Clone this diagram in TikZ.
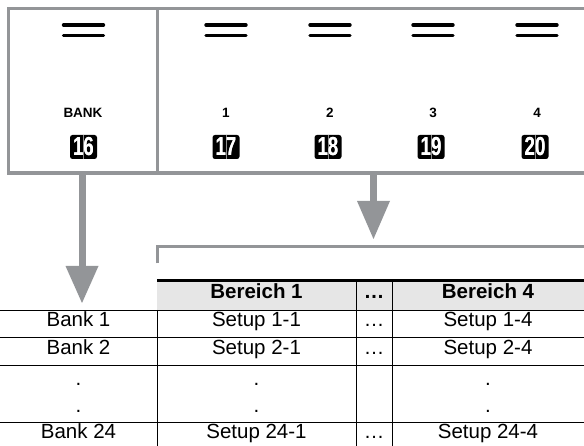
\documentclass[tikz,border=0pt]{standalone}
\usepackage{fontspec}
\setmainfont{Liberation Sans}
\usepackage{graphicx}
\definecolor{framegray}{RGB}{147,149,152}
\definecolor{headgray}{RGB}{230,230,230}
\tikzset{
  frameline/.style={draw=framegray, line width=3.2pt},
  eqline/.style={draw=black, line width=3.4pt, line cap=round},
  keylabel/.style={font=\fontsize{13.5}{13.5}\selectfont\bfseries, anchor=center},
  numbox/.style={fill=black, rounded corners=2.5pt, minimum width=27pt, minimum height=24pt, inner sep=0pt, text=white,
    font=\fontsize{26}{26}\selectfont\bfseries},
  tabline/.style={draw=black, line width=1pt},
  cell/.style={anchor=base, font=\fontsize{20.5}{21}\selectfont, inner sep=0pt},
  headcell/.style={cell, font=\fontsize{20.5}{21}\selectfont\bfseries},
  arrshaft/.style={draw=framegray, line width=7pt},
  arrhead/.style={fill=framegray, draw=none},
}
\newcommand{\keybox}[4]{%
  \node[numbox] (#1) at (#2,#3) {\scalebox{0.72}[1]{#4}};
  \draw[draw=white!55!black, line width=0.4pt] (#1.north) -- (#1.south);
  \node[numbox, fill=none, text=white] (#1t) at (#2,#3) {\scalebox{0.72}[1]{#4}};
}
\begin{document}
\begin{tikzpicture}[x=1pt,y=-1pt]
\useasboundingbox (0,0) rectangle (584,446);
\begin{scope}
\clip (0,0) rectangle (584,446);
% frame
\draw[frameline] (590,8.5) -- (8.5,8.5) -- (8.5,173) -- (590,173);
\draw[frameline] (157.3,8.5) -- (157.3,173);
% equal signs
\foreach \cx [count=\i] in {83.5,226,330,433,537}{
  \draw[eqline] (\cx-20,25) -- (\cx+20,25);
  \draw[eqline] (\cx-20,35.5) -- (\cx+20,35.5);
}
% key labels
\node[keylabel] (lbank) at (83,113) {BANK};
\node[keylabel] (l1) at (226,113) {1};
\node[keylabel] (l2) at (330,113) {2};
\node[keylabel] (l3) at (433,113) {3};
\node[keylabel] (l4) at (537,113) {4};
% key number boxes
\keybox{k16}{83.5}{147}{16}
\keybox{k17}{226}{147}{17}
\keybox{k18}{328}{147}{18}
\keybox{k19}{431}{147}{19}
\keybox{k20}{535}{147}{20}
% arrows
\coordinate (a1s) at (82,173);
\coordinate (a1b) at (82,266);
\coordinate (a1t) at (82,303);
\draw[arrshaft] (a1s) -- (a1b);
\fill[arrhead] ([xshift=-16.5pt]a1b) -- ([xshift=16.5pt]a1b) -- (a1t) -- cycle;
\coordinate (a2s) at (373.5,173);
\coordinate (a2b) at (373.5,201);
\coordinate (a2t) at (373.5,239);
\draw[arrshaft] (a2s) -- (a2b);
\fill[arrhead] ([xshift=-16.5pt]a2b) -- ([xshift=16.5pt]a2b) -- (a2t) -- cycle;
% bracket
\draw[frameline] (157.3,263.5) -- (157.3,246.3) -- (590,246.3);
% table header
\fill[headgray] (157,282) rectangle (590,310);
\draw[draw=black, line width=3pt] (157,280.5) -- (590,280.5);
\foreach \yy in {310.5,338,366,422}{
  \draw[tabline] (0,\yy) -- (590,\yy);
}
\draw[tabline] (157,310) -- (157,450);
\draw[tabline] (356,282) -- (356,450);
\draw[tabline] (392,282) -- (392,450);
\end{scope}
% table text
\node[headcell] (h1) at (256.5,299) {Bereich 1};
\node[headcell] (h2) at (374,299) {…};
\node[headcell] (h3) at (488,299) {Bereich 4};
\node[cell] (b1) at (78.5,327) {Bank 1};
\node[cell] (s11) at (256.5,327) {Setup 1-1};
\node[cell] (d1) at (374,327) {…};
\node[cell] (s14) at (488,327) {Setup 1-4};
\node[cell] (b2) at (78.5,355) {Bank 2};
\node[cell] (s21) at (256.5,355) {Setup 2-1};
\node[cell] (d2) at (374,355) {…};
\node[cell] (s24) at (488,355) {Setup 2-4};
\node[cell] (p1a) at (78.5,386) {.};
\node[cell] (p1b) at (78.5,413) {.};
\node[cell] (p2a) at (256.5,386) {.};
\node[cell] (p2b) at (256.5,413) {.};
\node[cell] (p4a) at (488,386) {.};
\node[cell] (p4b) at (488,413) {.};
\node[cell] (b24) at (78.5,438.5) {Bank 24};
\node[cell] (s241) at (256.5,438.5) {Setup 24-1};
\node[cell] (d24) at (374,438.5) {…};
\node[cell] (s244) at (488,438.5) {Setup 24-4};
\end{tikzpicture}
\end{document}
